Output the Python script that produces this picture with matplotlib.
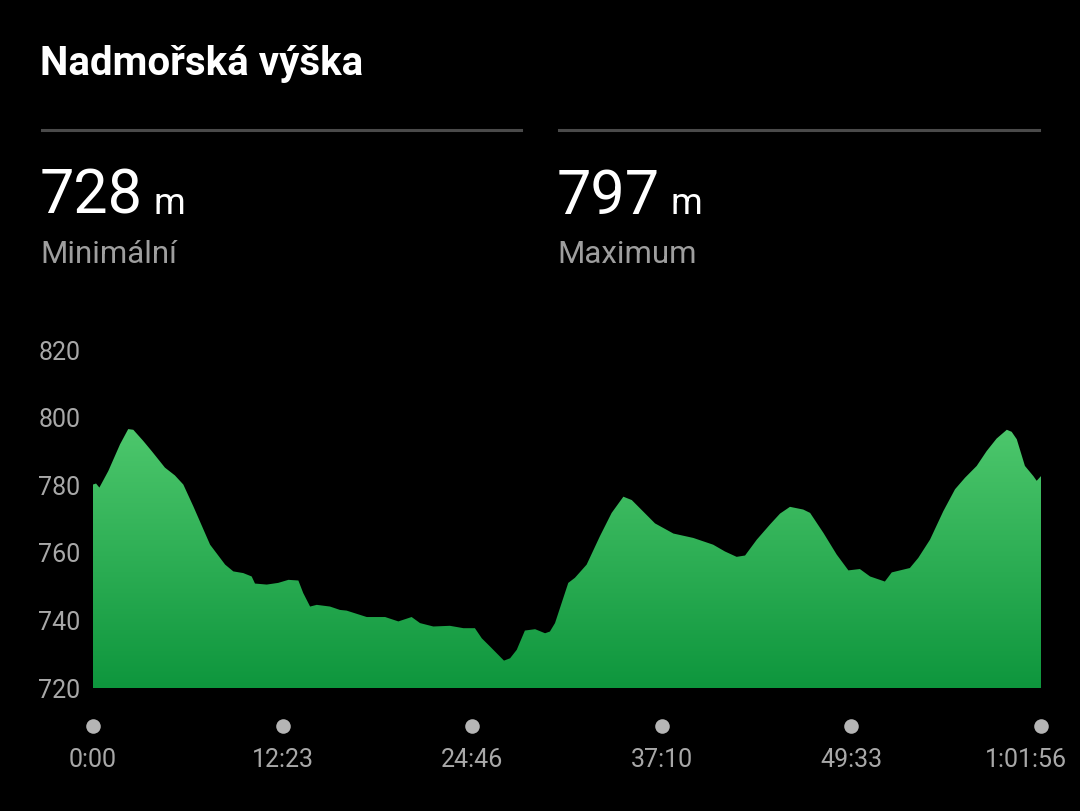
import numpy as np
import matplotlib.pyplot as plt
from matplotlib.colors import LinearSegmentedColormap
from matplotlib.transforms import ScaledTranslation, blended_transform_factory

plt.rcParams['font.family'] = ['Roboto', 'DejaVu Sans']

# elevation profile (time in s, elevation in m)
time_s = [0, 12, 25, 60, 106, 138, 158, 197, 230, 282, 321, 354, 393, 459, 518, 550,
          589, 622, 635, 681, 726, 766, 805, 824, 851, 877, 929, 968, 994, 1073, 1112,
          1145, 1197, 1249, 1282, 1334, 1399, 1452, 1497, 1524, 1556, 1611, 1635, 1661,
          1693, 1733, 1772, 1791, 1811, 1863, 1889, 1935, 1987, 2033, 2079, 2112, 2203,
          2275, 2353, 2431, 2477, 2523, 2556, 2602, 2654, 2693, 2732, 2784, 2811, 2863,
          2915, 2961, 3006, 3046, 3104, 3131, 3202, 3235, 3281, 3333, 3379, 3418, 3464,
          3503, 3542, 3582, 3601, 3621, 3653, 3686, 3699, 3716]
elev_m = [780.2, 780.5, 779.3, 784.2, 792.1, 796.6, 796.4, 793.1, 790.1, 785.2, 782.9,
          780.2, 773.8, 762.4, 756.5, 754.5, 754.0, 753.0, 750.9, 750.6, 751.1, 752.0,
          751.8, 748.1, 744.1, 744.6, 744.1, 743.1, 742.9, 741.0, 741.0, 741.0, 739.7,
          741.0, 739.2, 738.2, 738.4, 737.7, 737.7, 734.7, 732.3, 728.1, 728.8, 731.3,
          737.0, 737.4, 736.2, 736.7, 739.2, 751.1, 752.6, 756.5, 764.9, 771.8, 776.6,
          775.6, 768.7, 765.7, 764.4, 762.4, 760.4, 758.8, 759.2, 763.9, 768.4, 771.6,
          773.6, 772.8, 771.8, 765.9, 759.5, 754.8, 755.2, 753.0, 751.5, 754.2, 755.5,
          758.5, 763.9, 772.3, 778.8, 782.2, 785.7, 790.1, 793.8, 796.4, 795.8, 793.6,
          785.7, 782.7, 781.3, 782.7]

y_ticks = [720, 740, 760, 780, 800, 820]
x_ticks = [0, 743, 1486, 2230, 2973, 3716]
x_labels = ['0:00', '12:23', '24:46', '37:10', '49:33', '1:01:56']

title = 'Nadmořská výška'
min_val, min_label = '728', 'Minimální'
max_val, max_label = '797', 'Maximum'

fig = plt.figure(figsize=(10.8, 8.11), dpi=100, facecolor='black')
W, H = 1080, 811

# header texts
fig.text(40 / W, 1 - 75 / H, title, color='white', fontsize=29, fontweight='bold', va='baseline')
for x0, x1 in [(42, 521), (559, 1039)]:
    fig.add_artist(plt.Line2D([x0 / W, x1 / W], [1 - 130 / H] * 2, color='#4a4a4a', lw=2.2))
for x0, val, lab in [(42, min_val, min_label), (559, max_val, max_label)]:
    t = fig.text((x0 - 2) / W, 1 - 214 / H, val, color='white', fontsize=44, va='baseline')
    fig.canvas.draw()
    bb = t.get_window_extent()
    fig.text((bb.x1 + 10) / W, 1 - 214 / H, 'm', color='white', fontsize=26, va='baseline')
    fig.text((x0 - 2) / W, 1 - 263 / H, lab, color='#9e9e9e', fontsize=22.5, va='baseline')

# chart
ax = fig.add_axes([93 / W, (H - 688) / H, 948 / W, 338 / H])
ax.set_facecolor('black')
ax.set_xlim(0, 3716)
ax.set_ylim(720, 820)

cmap = LinearSegmentedColormap.from_list('g', ['#0e963d', '#4ec86d'])
grad = np.linspace(0, 1, 256).reshape(-1, 1)
img = ax.imshow(grad, cmap=cmap, aspect='auto', origin='lower',
                extent=[0, 3716, 720, 798], zorder=1)
poly = ax.fill_between(time_s, elev_m, 720, color='none', lw=0)
img.set_clip_path(poly.get_paths()[0], transform=ax.transData)

for s in ax.spines.values():
    s.set_visible(False)
ax.set_yticks(y_ticks)
ax.set_xticks(x_ticks)
ax.set_xticklabels(x_labels)
ax.tick_params(axis='y', length=0, pad=9, labelsize=18, labelcolor='#a8a8a8')
ax.tick_params(axis='x', length=0, pad=43, labelsize=18, labelcolor='#a8a8a8')
last = ax.get_xticklabels()[-1]
last.set_transform(last.get_transform() + ScaledTranslation(-15 / 100, 0, fig.dpi_scale_trans))

# tick dots
tr = blended_transform_factory(ax.transData, ax.transAxes)
ax.scatter(x_ticks, [-38 / 338] * len(x_ticks), s=110, color='#b5b5b5',
           transform=tr, clip_on=False, lw=0)

fig.savefig('out.png', dpi=100, facecolor='black')
